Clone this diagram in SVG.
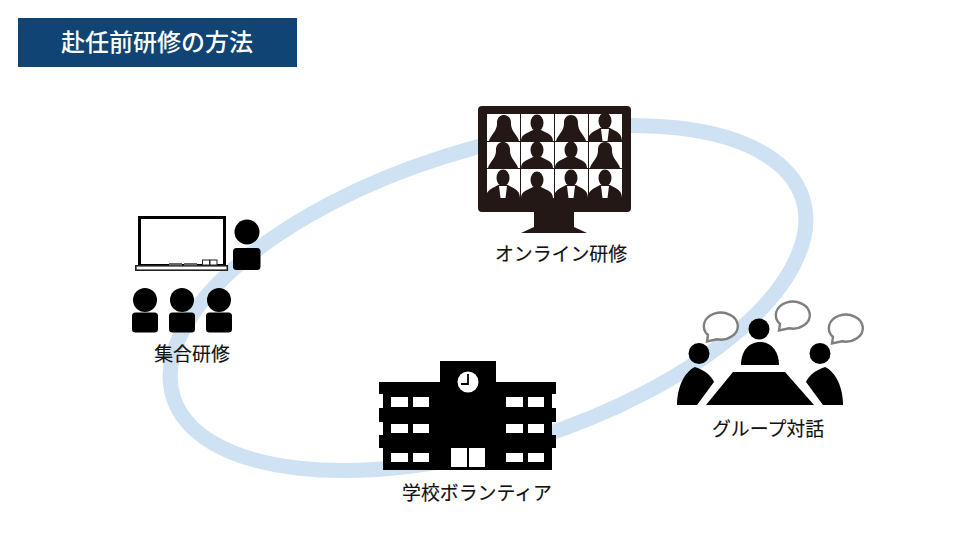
<svg xmlns="http://www.w3.org/2000/svg" width="960" height="540" viewBox="0 0 960 540">
<style>
.lbl{font-family:"Noto Sans CJK JP","Noto Sans",sans-serif;font-size:18.9px;fill:#111;text-anchor:middle;stroke:#111;stroke-width:.15}
.k{fill:#000}
.m{fill:#231815}
.w{fill:#fff}
.b{fill:#fff;stroke:#7f7f7f;stroke-width:2.4}
</style>
<defs>
<g id="sil"><ellipse cx="0" cy="-18" rx="6.500" ry="8.500"/><path d="M-16 0C-16-7-9-8-4-11L4-11C9-8 16-7 16 0Z"/></g>
<g id="silh"><path d="M-7-17C-8-29 8-29 7-17C7-10 14-5 15 0L-15 0C-14-5-7-10-7-17Z"/></g>
<g id="sils"><ellipse cx="0" cy="-20" rx="6.500" ry="8.500"/><path d="M-17 0C-17-9-9-10-5-13L5-13C9-10 17-9 17 0Z"/><path class="w" d="M-4-12L4-12 2.500 0-2.500 0Z"/></g>
<path id="bub" d="M5 23A17 13.500 0 1 1 14 27.300L4 29.500Z"/>
</defs>
<rect x="18" y="18" width="279" height="49" fill="#0f4475"/>
<text x="157" y="51" text-anchor="middle" font-family="'Noto Sans CJK JP',sans-serif" font-size="24" font-weight="500" fill="#fff">赴任前研修の方法</text>
<g id="connectors"><ellipse cx="488" cy="298" rx="330" ry="148" transform="rotate(-17.5 488 298)" fill="none" stroke="#cfe2f3" stroke-width="15"/></g>
<g id="online" class="m">
<rect x="478" y="106" width="153" height="106" rx="4"/>
<path d="M534 211H574V227L587 233H521L534 227Z"/>
<rect class="w" x="487" y="114" width="33" height="27"/><rect class="w" x="521" y="114" width="33" height="27"/><rect class="w" x="555" y="114" width="33" height="27"/><rect class="w" x="589" y="114" width="33" height="27"/>
<rect class="w" x="487" y="142" width="33" height="26"/><rect class="w" x="521" y="142" width="33" height="26"/><rect class="w" x="555" y="142" width="33" height="26"/><rect class="w" x="589" y="142" width="33" height="26"/>
<rect class="w" x="487" y="169" width="33" height="29"/><rect class="w" x="521" y="169" width="33" height="29"/><rect class="w" x="555" y="169" width="33" height="29"/><rect class="w" x="589" y="169" width="33" height="29"/>
<use href="#silh" x="504" y="141"/><use href="#sil" x="537" y="141"/><use href="#silh" x="571" y="141"/><use href="#sils" x="605" y="141"/>
<use href="#silh" x="503" y="168"/><use href="#sil" x="537" y="168"/><use href="#sil" x="571" y="168"/><use href="#silh" x="605" y="168"/>
<use href="#sils" x="503" y="198"/><use href="#sil" x="537" y="198"/><use href="#sils" x="571" y="198"/><use href="#sils" x="605" y="198"/>
<text class="lbl" x="561" y="261">オンライン研修</text>
</g>
<g id="shugo">
<rect x="139.500" y="217.500" width="85" height="48" fill="#fff" stroke="#000" stroke-width="3"/>
<rect x="135.800" y="265.800" width="91.500" height="4.400" fill="#fff" stroke="#222" stroke-width="1.600"/>
<rect x="169" y="263" width="13" height="2.500" fill="#666"/><rect x="184" y="263" width="13" height="2.500" fill="#666"/>
<rect x="202.500" y="260" width="7" height="5" fill="#fff" stroke="#222"/><rect x="210" y="260" width="7" height="5" fill="#fff" stroke="#222"/>
<g class="k">
<circle cx="247" cy="232" r="12.500"/><rect x="233" y="248" width="27.500" height="22" rx="3.500"/>
<circle cx="145" cy="300" r="12"/><rect x="132" y="312.500" width="26" height="20" rx="3.500"/>
<circle cx="182" cy="300" r="12"/><rect x="169" y="312.500" width="26" height="20" rx="3.500"/>
<circle cx="219" cy="300" r="12"/><rect x="206" y="312.500" width="26" height="20" rx="3.500"/>
</g>
<text class="lbl" x="192" y="361">集合研修</text>
</g>
<g id="school">
<path class="k" d="M440 361H496V382H556V394H552V408H556V422H552V435H556V448H552V470H383V448H379V435H383V422H379V408H383V394H379V382H440Z"/>
<circle class="w" cx="468" cy="382" r="10.500"/><path d="M468 374V384H461" fill="none" stroke="#000" stroke-width="1.800"/>
<g class="w">
<rect x="391" y="397" width="17" height="10"/><rect x="413" y="397" width="16" height="10"/><rect x="506" y="397" width="17" height="10"/><rect x="528" y="397" width="16" height="10"/>
<rect x="391" y="424" width="17" height="9"/><rect x="413" y="424" width="16" height="9"/><rect x="506" y="424" width="17" height="9"/><rect x="528" y="424" width="16" height="9"/>
<rect x="391" y="453" width="17" height="9"/><rect x="413" y="453" width="16" height="9"/><rect x="506" y="453" width="17" height="9"/><rect x="528" y="453" width="16" height="9"/>
<rect x="451" y="448" width="16" height="19"/><rect x="469" y="448" width="16" height="19"/>
</g>
<text class="lbl" x="477" y="500">学校ボランティア</text>
</g>
<g id="group">
<path class="k" d="M733 372H785L814 405H706Z"/>
<circle class="k" cx="759" cy="329" r="10.500"/><path class="k" d="M741 365C741 351 749 342 760 342C771 342 779 351 779 365Z"/>
<circle class="k" cx="699" cy="353.500" r="10.500"/><path class="k" d="M677 405C677 388 684 372 695 367C704 370 711 375 714 382L697 405Z"/>
<circle class="k" cx="820" cy="353.500" r="10.500"/><path class="k" d="M843 405C843 388 836 372 825 367C816 370 809 375 806 382L823 405Z"/>
<use href="#bub" x="703" y="312" class="b"/>
<use href="#bub" x="775" y="301" class="b"/>
<use href="#bub" x="828" y="314" class="b"/>
<text class="lbl" x="768" y="436">グループ対話</text>
</g>
</svg>
